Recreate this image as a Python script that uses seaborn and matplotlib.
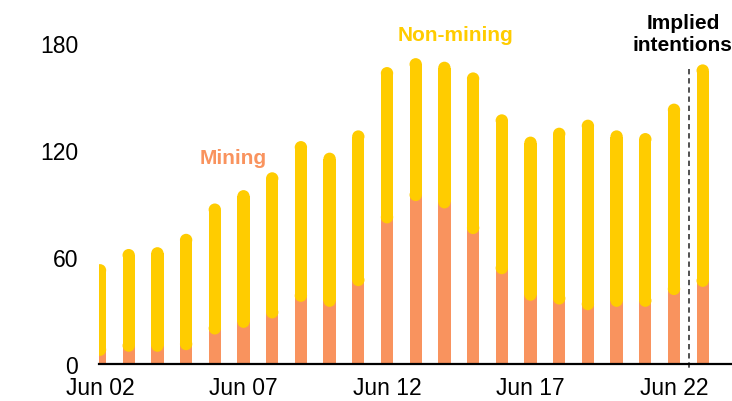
import matplotlib
matplotlib.use("Agg")
import matplotlib.pyplot as plt
from matplotlib.patches import Ellipse
import seaborn as sns
import pandas as pd

# ---- data ----
dates = ['Jun 02', 'Jun 03', 'Jun 04', 'Jun 05', 'Jun 06', 'Jun 07', 'Jun 08',
         'Jun 09', 'Jun 10', 'Jun 11', 'Jun 12', 'Jun 13', 'Jun 14', 'Jun 15',
         'Jun 16', 'Jun 17', 'Jun 18', 'Jun 19', 'Jun 20', 'Jun 21', 'Jun 22',
         'Jun 23']
mining = [8.0, 10.3, 10.3, 11.2, 20.0, 23.7, 29.0, 38.3, 35.5, 47.1, 82.3,
          94.8, 90.7, 76.3, 53.8, 38.9, 36.8, 33.6, 35.5, 35.5, 42.1, 46.7]
total = [56.0, 64.5, 65.5, 73.0, 90.0, 97.5, 107.5, 125.0, 118.5, 131.0,
         166.5, 171.5, 169.5, 163.5, 140.0, 127.5, 132.5, 137.0, 131.0, 129.5,
         146.0, 168.0]
yticks = [0, 60, 120, 180]
xtick_idx = [0, 5, 10, 15, 20]

ORANGE = '#F9935E'
YELLOW = '#FFCC00'

sns.set_style('white')
plt.rcParams['font.family'] = ['Liberation Sans', 'DejaVu Sans']
plt.rcParams['text.color'] = 'black'
plt.rcParams['xtick.color'] = 'black'
plt.rcParams['ytick.color'] = 'black'

W, H, DPI = 732, 402, 100
fig = plt.figure(figsize=(W / DPI, H / DPI), dpi=DPI)
left_px, right_px, bottom_px, top_px = 99, 732, 365, 0
ax = fig.add_axes([left_px / W, (H - bottom_px) / H,
                   (right_px - left_px) / W, (bottom_px - top_px) / H])

df = pd.DataFrame({'date': dates, 'mining': mining, 'total': total})
bw = 0.43
sns.barplot(data=df, x='date', y='total', color=YELLOW, width=bw,
            saturation=1, ax=ax, zorder=3)
n = len(dates)
sns.barplot(data=df, x='date', y='mining', color=ORANGE, width=bw,
            saturation=1, ax=ax, zorder=2)

x0 = -0.035
x1 = x0 + (right_px - left_px) / 28.7
ax.set_xlim(x0, x1)
y_top = (bottom_px - top_px) / 1.7835
ax.set_ylim(0, y_top)

# turn yellow bars into round-capped segments sitting on the mining bars
ppx = (right_px - left_px) / (x1 - x0)
ppy = (bottom_px - top_px) / y_top
aspect = ppx / ppy
patches = list(ax.patches)
yellow = patches[:n]
orange = patches[n:]
for yp, op in zip(yellow, orange):
    xx = yp.get_x()
    w = yp.get_width()
    cx = xx + w / 2
    r_y = (w / 2) * aspect
    tot = yp.get_height()
    mn = op.get_height()
    yp.set_y(mn)
    yp.set_height(tot - r_y - mn)
    yp.set_edgecolor('none')
    for cy in (tot - r_y, mn):
        ax.add_patch(Ellipse((cx, cy), w, 2 * r_y, facecolor=YELLOW,
                             edgecolor='none', zorder=3))
for op in orange:
    op.set_edgecolor('none')

# axes styling
for s in ['left', 'top', 'right']:
    ax.spines[s].set_visible(False)
ax.spines['bottom'].set_color('black')
ax.spines['bottom'].set_linewidth(1.6)
ax.spines['bottom'].set_zorder(5)
ax.set_yticks(yticks)
ax.set_yticklabels([str(v) for v in yticks])
ax.set_xticks(xtick_idx)
ax.set_xticklabels([dates[i] for i in xtick_idx])
ax.tick_params(axis='y', length=0, pad=15, labelsize=16.5, labelcolor='black')
ax.tick_params(axis='x', length=0, pad=9, labelsize=16.5, labelcolor='black')
ax.set_xlabel('')
ax.set_ylabel('')
ax.grid(False)

# dashed separator
ax.plot([20.52, 20.52], [165.4, -2.8], color='#222222', lw=1.1,
        dashes=(3.5, 2.5), clip_on=False, zorder=4)

# annotations
ax.text(4.63, 116, 'Mining', color=ORANGE, fontsize=15, fontweight='bold',
        ha='center', va='center')
ax.text(12.4, 185, 'Non-mining', color=YELLOW, fontsize=15, fontweight='bold',
        ha='center', va='center')
ax.text(20.31, 185.3, 'Implied\nintentions', color='black', fontsize=15,
        fontweight='bold', ha='center', va='center', clip_on=False)

fig.savefig('out.png', dpi=DPI)
